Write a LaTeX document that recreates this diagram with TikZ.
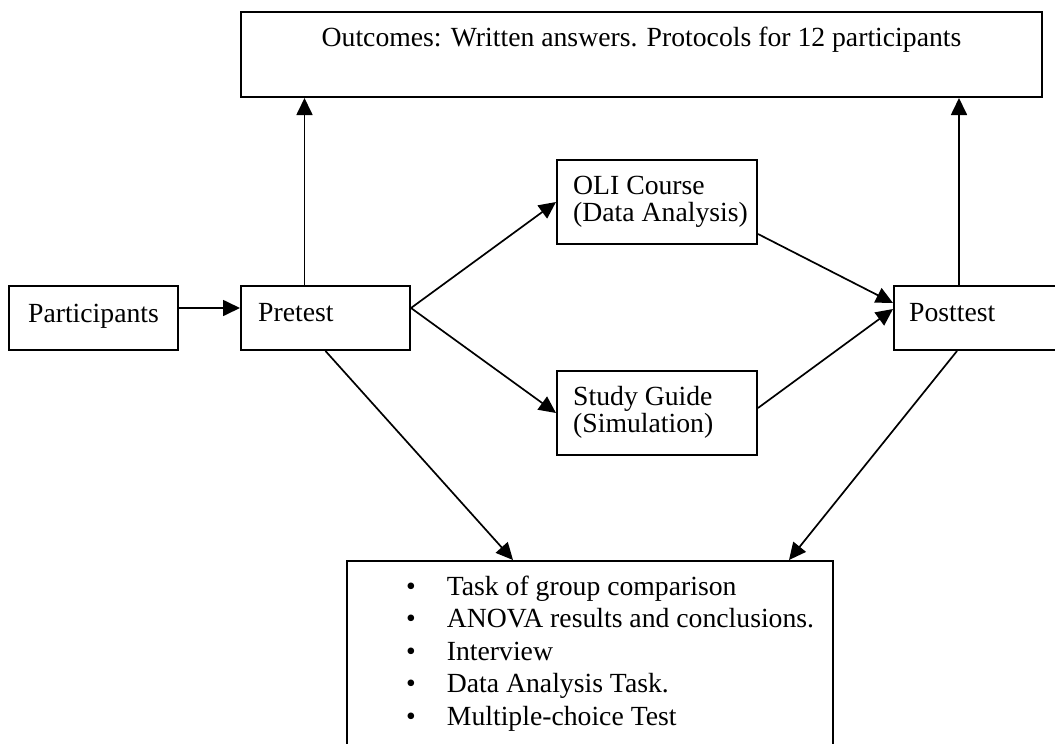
\documentclass[tikz,border=0pt]{standalone}
\usepackage{fontspec}
\setmainfont{Liberation Serif}
\usetikzlibrary{arrows.meta}

\begin{document}
\begin{tikzpicture}[x=1pt,y=-1pt,
  box/.style={draw, line width=2pt, inner sep=0pt},
  txt/.style={inner sep=0pt, anchor=base west},
  arr/.style={line width=1.7pt, -{Triangle[length=17pt,width=16pt]}},
  font=\fontsize{27.7}{27}\selectfont]
  \useasboundingbox (0,0) rectangle (1055,744);
  \node[box, anchor=north west, minimum width=801pt, text height=34pt, text depth=51pt] (outc) at (240,11)
    {Outcomes: Written answers. Protocols for 12 participants};
  \node[box, anchor=north west, minimum width=169pt, text height=36pt, text depth=28pt] (part) at (8,285) {Participants};
  \node[box, anchor=north west, minimum width=169pt, minimum height=64pt] (pre) at (240,285) {};
  \node[txt] (pretext) at (258,321) {Pretest};
  \node[box, anchor=north west, minimum width=200pt, minimum height=84pt] (oli) at (556,159) {};
  \node[txt] (olitext) at (573,194) {\begin{tabular}[t]{@{}l@{}}OLI Course\\(Data Analysis)\end{tabular}};
  \node[box, anchor=north west, minimum width=200pt, minimum height=84pt] (sg) at (556,370) {};
  \node[txt] (sgtext) at (573,405) {\begin{tabular}[t]{@{}l@{}}Study Guide\\(Simulation)\end{tabular}};
  \node[box, anchor=north west, minimum width=169pt, minimum height=64pt] (post) at (893,285) {};
  \node[txt] (posttext) at (909,321) {Posttest};
  \node[box, anchor=north west, minimum width=486pt, minimum height=200pt] (res) at (346,560) {};
  \node[txt, font=\fontsize{27.7}{32.5}\selectfont] (restext) at (406,595)
    {\begin{tabular}[t]{@{}l@{\hspace{31pt}}l@{}}
      \textbullet & Task of group comparison\\
      \textbullet & ANOVA results and conclusions.\\
      \textbullet & Interview\\
      \textbullet & Data Analysis Task.\\
      \textbullet & Multiple-choice Test
    \end{tabular}};
  \draw[arr] ([yshift=10pt]part.east) -- ([yshift=10pt]pre.west);
  \draw[arr] ([yshift=10pt]pre.east) -- (oli.west);
  \draw[arr] ([yshift=10pt]pre.east) -- (sg.west);
  \draw[arr] ([yshift=11pt]oli.south east) -- ([yshift=15pt]post.west);
  \draw[arr] ([yshift=5pt]sg.east) -- ([yshift=9pt]post.west);
  \draw[arr] ([xshift=-21pt]pre.north) -- ([xshift=-21pt]pre.north |- outc.south);
  \draw[arr] ([xshift=-19.5pt]post.north) -- ([xshift=-19.5pt]post.north |- outc.south);
  \draw[arr] (pre.south) -- ([xshift=167pt]res.north west);
  \draw[arr] ([xshift=-21.5pt]post.south) -- ([xshift=443pt]res.north west);
\end{tikzpicture}
\end{document}
